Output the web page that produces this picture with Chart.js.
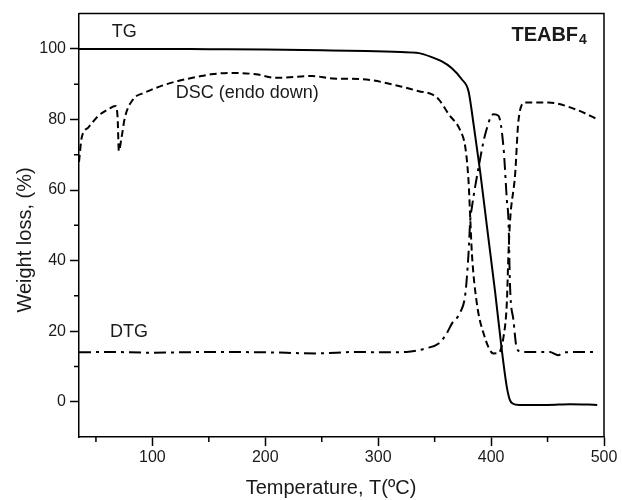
<!DOCTYPE html>
<html>
<head>
<meta charset="utf-8">
<script src="https://cdn.jsdelivr.net/npm/chart.js@4.4.0/dist/chart.umd.min.js"></script>
<style>
  body { margin: 0; background: #fff; }
  canvas { display: block; }
</style>
</head>
<body>
<canvas id="tga" width="622" height="500"></canvas>
<script>
// TG curve (temperature, weight %)
var tgTemp = [35, 60, 100, 150, 200, 250, 289, 320, 336, 348, 356, 365, 374, 380, 384.5, 390.4, 396.2, 403.6, 409.5, 413.9, 416.5, 419, 425, 450, 470, 494];
var tgValue = [100, 100, 100, 99.9, 99.8, 99.6, 99.4, 99.1, 98.8, 97.6, 96.5, 94.6, 91.4, 88, 78.6, 65, 50, 31, 14.6, 4.2, 0.6, -0.5, -0.9, -0.9, -0.7, -0.9];

// DSC curve (endo down)
var dscTemp = [35, 37.4, 43.2, 52, 60.9, 67.4, 69.2, 70.3, 72.7, 75.6, 82.9, 93.3, 108, 122.6, 143.3, 152, 171, 191.8, 209.5, 241.8, 259.5, 286, 318.3, 336, 347.7, 353.6, 362.4, 372.8, 377.2, 380, 381.5, 383, 387.4, 393.3, 402, 406.6, 411, 413.9, 415.4, 416.8, 421.3, 424.2, 430, 442, 450.7, 474.5, 494];
var dscValue = [68, 74.9, 77.7, 81, 82.9, 83.8, 80.5, 71.1, 74.9, 80.5, 85.7, 87.6, 89.5, 90.9, 92.3, 92.8, 93.2, 92.8, 91.8, 92.3, 91.6, 91.4, 89.5, 88, 87.1, 85.7, 81.5, 76.8, 72, 62.6, 52.3, 42, 27.8, 19.4, 13.7, 13.8, 18.4, 27.8, 42, 51.3, 64.5, 79.6, 84.8, 84.8, 84.8, 82.9, 80.1];

// DTG curve
var dtgTemp = [35, 60, 100, 150, 200, 246, 280, 300, 325, 343, 353.6, 360, 365.4, 372.8, 377.2, 380, 381.5, 383, 388.9, 394.8, 402.2, 406.6, 411, 414, 415.4, 416.8, 419.8, 422.8, 427.3, 440, 452, 459.5, 465, 480, 494];
var dtgValue = [14, 14.1, 13.9, 14.1, 14, 13.7, 14.1, 14, 14.1, 15.2, 16.5, 19, 22.2, 25.4, 30.6, 42, 51.3, 55.1, 66.4, 75.8, 81.5, 81, 72, 57, 51.3, 32.5, 23.1, 15.1, 14.1, 14.1, 14.1, 13.2, 14, 14.1, 14.1];

// axis ticks
var xTicks = [100, 200, 300, 400, 500];
var xMinorTicks = [50, 150, 250, 350, 450];
var yTicks = [0, 20, 40, 60, 80, 100];
var yMinorTicks = [10, 30, 50, 70, 90];

var FONT = '"Liberation Sans", Arial, Helvetica, sans-serif';

function toPoints(xs, ys) {
    var pts = [];
    for (var i = 0; i < xs.length; i++) {
        pts.push({ x: xs[i], y: ys[i] });
    }
    return pts;
}

//######################
//#
//#		frame, minor ticks, labels
//#
//######################

var extras = {
    id: 'extras',
    afterDraw: function(chart) {
        var ctx = chart.ctx;
        var area = chart.chartArea;
        var xs = chart.scales.x;
        var ys = chart.scales.y;

        ctx.save();
        ctx.strokeStyle = '#000';
        ctx.lineWidth = 1.5;
        ctx.beginPath();
        ctx.moveTo(area.left, area.top);
        ctx.lineTo(area.right, area.top);
        ctx.lineTo(area.right, area.bottom);
        for (var i = 0; i < xMinorTicks.length; i++) {
            var px = xs.getPixelForValue(xMinorTicks[i]);
            ctx.moveTo(px, area.bottom);
            ctx.lineTo(px, area.bottom + 5);
        }
        for (var j = 0; j < yMinorTicks.length; j++) {
            var py = ys.getPixelForValue(yMinorTicks[j]);
            ctx.moveTo(area.left, py);
            ctx.lineTo(area.left - 5, py);
        }
        ctx.stroke();

        // curve labels
        ctx.fillStyle = '#1a1a1a';
        ctx.textBaseline = 'alphabetic';
        ctx.textAlign = 'left';
        ctx.font = '18px ' + FONT;
        ctx.fillText('TG', xs.getPixelForValue(64), ys.getPixelForValue(103.3));
        ctx.fillText('DSC (endo down)', xs.getPixelForValue(120.6), ys.getPixelForValue(86));
        ctx.fillText('DTG', xs.getPixelForValue(62.4), ys.getPixelForValue(18.3));

        // sample name
        var nx = xs.getPixelForValue(418);
        var ny = ys.getPixelForValue(102.2);
        ctx.font = 'bold 20px ' + FONT;
        ctx.fillText('TEABF', nx, ny);
        var w = ctx.measureText('TEABF').width;
        ctx.font = 'bold 14px ' + FONT;
        ctx.fillText('4', nx + w + 1, ny + 3);

        // axis titles
        ctx.font = '20px ' + FONT;
        ctx.textAlign = 'center';
        ctx.fillText('Temperature, T(ºC)', 331, 494);
        ctx.translate(31, 240);
        ctx.rotate(-Math.PI / 2);
        ctx.fillText('Weight loss, (%)', 0, 0);
        ctx.restore();
    }
};

//######################
//#
//#		chart
//#
//######################

new Chart(document.getElementById('tga'), {
    type: 'line',
    data: {
        datasets: [{
            label: 'TG',
            data: toPoints(tgTemp, tgValue),
            borderColor: '#000',
            borderWidth: 2,
            cubicInterpolationMode: 'monotone'
        }, {
            label: 'DSC',
            data: toPoints(dscTemp, dscValue),
            borderColor: '#000',
            borderWidth: 2,
            borderDash: [7, 4],
            cubicInterpolationMode: 'monotone'
        }, {
            label: 'DTG',
            data: toPoints(dtgTemp, dtgValue),
            borderColor: '#000',
            borderWidth: 2,
            borderDash: [12, 5, 3, 5],
            cubicInterpolationMode: 'monotone'
        }]
    },
    options: {
        responsive: false,
        animation: false,
        layout: { padding: { top: 12, right: 18, left: 0, bottom: 0 } },
        elements: { point: { radius: 0 } },
        plugins: {
            legend: { display: false },
            tooltip: { enabled: false }
        },
        scales: {
            x: {
                type: 'linear',
                min: 35,
                max: 500,
                afterFit: function(scale) { scale.height = 63; },
                afterBuildTicks: function(scale) {
                    scale.ticks = xTicks.map(function(v) { return { value: v }; });
                },
                grid: { drawOnChartArea: false, tickLength: 9, tickColor: '#000', tickWidth: 1.5 },
                border: { color: '#000', width: 1.5 },
                ticks: { font: { family: FONT, size: 16 }, color: '#1a1a1a', padding: 2, maxRotation: 0 }
            },
            y: {
                type: 'linear',
                min: -10,
                max: 110,
                afterFit: function(scale) { scale.width = 79; },
                afterBuildTicks: function(scale) {
                    scale.ticks = yTicks.map(function(v) { return { value: v }; });
                },
                grid: { drawOnChartArea: false, tickLength: 9, tickColor: '#000', tickWidth: 1.5 },
                border: { color: '#000', width: 1.5 },
                ticks: { font: { family: FONT, size: 16 }, color: '#1a1a1a', padding: 4 }
            }
        }
    },
    plugins: [extras]
});
</script>
</body>
</html>
